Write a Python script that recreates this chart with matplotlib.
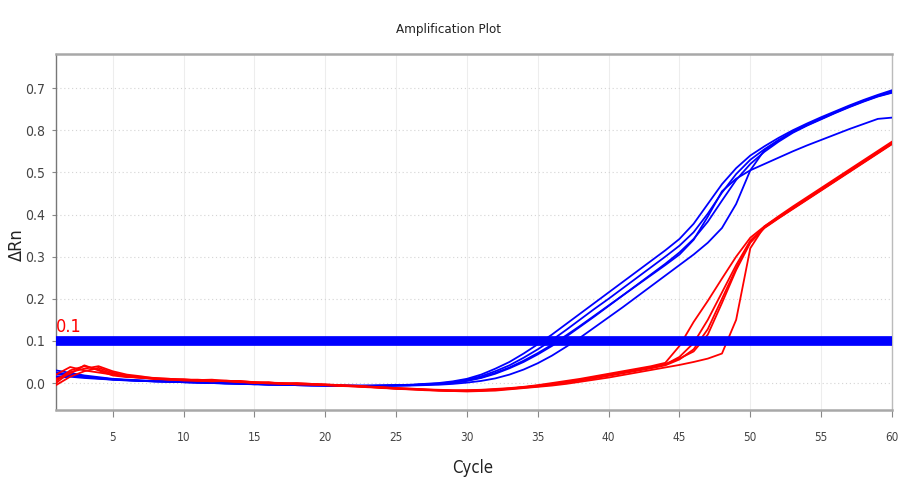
import matplotlib
matplotlib.use("Agg")
import matplotlib.pyplot as plt

# ---------------- data ----------------
cycles = list(range(1, 61))

blue_a = [0.030, 0.024, 0.018, 0.014, 0.010, 0.008, 0.006, 0.005, 0.004, 0.003,
          0.002, 0.001, 0.000, -0.001, -0.002, -0.003, -0.004, -0.004, -0.005, -0.005,
          -0.006, -0.006, -0.006, -0.006, -0.005, -0.004, -0.002, 0.000,
          0.004, 0.010, 0.020, 0.034, 0.050, 0.070, 0.092, 0.115, 0.140, 0.165, 0.190, 0.215,
          0.240, 0.265, 0.290, 0.315, 0.342, 0.378, 0.425, 0.472, 0.510, 0.540, 0.562, 0.582,
          0.600, 0.616, 0.631, 0.645, 0.659, 0.672, 0.684, 0.695]
blue_b = [0.020, 0.022, 0.016, 0.012, 0.009, 0.007, 0.006, 0.004, 0.004, 0.002,
          0.001, 0.001, -0.001, -0.001, -0.003, -0.003, -0.004, -0.005, -0.005, -0.006,
          -0.006, -0.007, -0.006, -0.006, -0.005, -0.005, -0.003, -0.001,
          0.002, 0.008, 0.016, 0.028, 0.042, 0.060, 0.080, 0.102, 0.126, 0.151, 0.176, 0.200,
          0.225, 0.250, 0.275, 0.300, 0.326, 0.358, 0.402, 0.452, 0.496, 0.530, 0.555, 0.577,
          0.597, 0.613, 0.628, 0.643, 0.657, 0.670, 0.682, 0.692]
blue_c = [0.012, 0.015, 0.012, 0.010, 0.008, 0.006, 0.005, 0.004, 0.003, 0.002,
          0.001, 0.000, 0.000, -0.002, -0.002, -0.004, -0.004, -0.005, -0.006, -0.006,
          -0.007, -0.007, -0.007, -0.006, -0.006, -0.005, -0.004, -0.002,
          0.000, 0.005, 0.012, 0.022, 0.035, 0.050, 0.068, 0.088, 0.110, 0.134, 0.158, 0.183,
          0.208, 0.233, 0.258, 0.283, 0.310, 0.342, 0.383, 0.433, 0.482, 0.520, 0.549, 0.573,
          0.594, 0.611, 0.626, 0.641, 0.655, 0.668, 0.680, 0.689]
blue_d = [0.025, 0.020, 0.015, 0.012, 0.009, 0.007, 0.005, 0.004, 0.003, 0.002,
          0.001, 0.000, -0.001, -0.002, -0.003, -0.003, -0.004, -0.005, -0.006, -0.006,
          -0.007, -0.007, -0.007, -0.007, -0.006, -0.006, -0.005, -0.004,
          -0.002, 0.001, 0.005, 0.011, 0.020, 0.032, 0.047, 0.065, 0.086, 0.108, 0.132, 0.156,
          0.180, 0.205, 0.230, 0.255, 0.280, 0.305, 0.333, 0.368, 0.425, 0.505, 0.553, 0.576,
          0.596, 0.612, 0.627, 0.642, 0.656, 0.669, 0.681, 0.690]
blue_e = [0.015, 0.018, 0.014, 0.011, 0.008, 0.007, 0.005, 0.004, 0.003, 0.003,
          0.002, 0.000, -0.001, -0.001, -0.002, -0.004, -0.004, -0.004, -0.005, -0.006,
          -0.006, -0.006, -0.007, -0.006, -0.006, -0.005, -0.003, -0.002,
          0.001, 0.006, 0.013, 0.024, 0.037, 0.053, 0.071, 0.091, 0.113, 0.136, 0.160, 0.184,
          0.208, 0.232, 0.256, 0.280, 0.305, 0.340, 0.395, 0.455, 0.485, 0.505, 0.520, 0.535,
          0.550, 0.564, 0.577, 0.590, 0.603, 0.615, 0.627, 0.630]

red_1 = [0.005, 0.030, 0.040, 0.032, 0.022, 0.018, 0.014, 0.012, 0.010, 0.008,
         0.007, 0.008, 0.005, 0.004, 0.002, 0.000, -0.001, 0.000, -0.002, -0.003,
         -0.005, -0.006, -0.008, -0.010, -0.012, -0.013, -0.015, -0.016, -0.017, -0.017,
         -0.016, -0.014, -0.012, -0.009, -0.005, 0.000, 0.005, 0.010, 0.016, 0.022,
         0.028, 0.034, 0.040, 0.048, 0.088, 0.145, 0.195, 0.248, 0.300, 0.345,
         0.372, 0.394, 0.416, 0.438, 0.460, 0.482, 0.504, 0.526, 0.548, 0.570]
red_2 = [0.020, 0.038, 0.030, 0.025, 0.020, 0.015, 0.013, 0.010, 0.008, 0.009,
         0.006, 0.005, 0.006, 0.003, 0.001, 0.002, -0.002, -0.002, -0.003, -0.005,
         -0.006, -0.008, -0.009, -0.012, -0.013, -0.015, -0.016, -0.018, -0.019, -0.018,
         -0.017, -0.016, -0.013, -0.010, -0.007, -0.003, 0.002, 0.008, 0.013, 0.019,
         0.025, 0.031, 0.037, 0.044, 0.062, 0.095, 0.150, 0.215, 0.280, 0.338,
         0.370, 0.393, 0.415, 0.437, 0.459, 0.481, 0.503, 0.525, 0.547, 0.569]
red_3 = [-0.005, 0.015, 0.028, 0.036, 0.025, 0.016, 0.012, 0.011, 0.008, 0.007,
         0.005, 0.006, 0.004, 0.002, 0.001, -0.001, -0.001, -0.003, -0.004, -0.004,
         -0.006, -0.007, -0.009, -0.011, -0.013, -0.014, -0.016, -0.017, -0.018, -0.019,
         -0.018, -0.016, -0.014, -0.011, -0.008, -0.004, 0.001, 0.006, 0.011, 0.017,
         0.023, 0.029, 0.035, 0.042, 0.056, 0.080, 0.128, 0.200, 0.272, 0.336,
         0.369, 0.392, 0.414, 0.436, 0.458, 0.480, 0.502, 0.524, 0.546, 0.568]
red_4 = [0.010, 0.022, 0.042, 0.030, 0.018, 0.014, 0.013, 0.009, 0.009, 0.006,
         0.006, 0.004, 0.005, 0.003, 0.000, 0.000, -0.002, -0.003, -0.003, -0.005,
         -0.007, -0.008, -0.010, -0.011, -0.014, -0.015, -0.017, -0.018, -0.019, -0.020,
         -0.019, -0.018, -0.015, -0.012, -0.009, -0.006, -0.002, 0.003, 0.008, 0.013,
         0.019, 0.025, 0.031, 0.037, 0.043, 0.050, 0.058, 0.070, 0.150, 0.320,
         0.372, 0.396, 0.419, 0.441, 0.463, 0.485, 0.507, 0.529, 0.551, 0.573]
red_5 = [0.000, 0.026, 0.034, 0.040, 0.028, 0.020, 0.016, 0.011, 0.010, 0.008,
         0.008, 0.006, 0.005, 0.005, 0.002, 0.001, 0.000, -0.001, -0.002, -0.004,
         -0.005, -0.007, -0.009, -0.010, -0.012, -0.014, -0.015, -0.017, -0.018, -0.018,
         -0.017, -0.015, -0.013, -0.010, -0.006, -0.002, 0.003, 0.008, 0.014, 0.020,
         0.026, 0.032, 0.038, 0.045, 0.058, 0.075, 0.115, 0.190, 0.268, 0.333,
         0.368, 0.391, 0.413, 0.435, 0.457, 0.479, 0.501, 0.523, 0.545, 0.567]

blue_series = [blue_a, blue_b, blue_c, blue_d, blue_e]
red_series = [red_1, red_2, red_3, red_4, red_5]

threshold = 0.1
threshold_label = "0.1"
x_ticks = [5, 10, 15, 20, 25, 30, 35, 40, 45, 50, 55, 60]
y_ticks = [0.0, 0.1, 0.2, 0.3, 0.4, 0.5, 0.6, 0.7]
y_tick_labels = ["0.0", "0.1", "0.2", "0.3", "0.4", "0.5", "0.8", "0.7"]
title = "Amplification Plot"
x_label = "Cycle"
y_label = "ΔRn"

# ---------------- drawing ----------------
cond = dict(family=["DejaVu Sans"], fontstretch="condensed")

W, H = 899, 488
fig = plt.figure(figsize=(W / 100, H / 100), dpi=100)
ax = fig.add_axes([56 / W, 1 - 410 / H, (892 - 56) / W, (410 - 54) / H])

BLUE = "#0000ff"
RED = "#ff0000"

for s in blue_series:
    ax.plot(cycles, s, color=BLUE, lw=1.3, zorder=3)
for s in red_series:
    ax.plot(cycles, s, color=RED, lw=1.3, zorder=3)

ax.axhline(threshold, color=BLUE, lw=7, zorder=5, solid_capstyle="butt")

ax.set_xlim(1, 60)
ax.set_ylim(-0.064, 0.781)

# grid
for xv in x_ticks:
    ax.axvline(xv, color="#ededed", lw=0.8, zorder=0)
for yv in y_ticks:
    ax.axhline(yv, color="#d4d4d4", lw=0.8, ls=(0, (1, 2.5)), zorder=0)

ax.set_xticks(x_ticks)
ax.set_xticklabels([str(v) for v in x_ticks], fontsize=8.5, color="#444444", **cond)
ax.set_yticks(y_ticks)
ax.set_yticklabels(y_tick_labels, fontsize=10, color="#444444", **cond)
ax.tick_params(axis="x", direction="out", length=5, width=0.8, color="#888888", pad=10)
ax.tick_params(axis="y", direction="out", length=3, width=0.8, color="#888888", pad=5)

for side in ["top", "bottom"]:
    ax.spines[side].set_color("#a8a8a8")
    ax.spines[side].set_linewidth(1.8)
ax.spines["left"].set_color("#777777")
ax.spines["left"].set_linewidth(1.0)
ax.spines["right"].set_color("#bbbbbb")
ax.spines["right"].set_linewidth(1.0)

fig.text(449 / W, 1 - 30 / H, title, ha="center", va="center", fontsize=9.5, color="#222222", **cond)
fig.text(473 / W, 1 - 468 / H, x_label, ha="center", va="center", fontsize=12, color="#222222", **cond)
fig.text(17 / W, 1 - 245 / H, y_label, ha="center", va="center", rotation=90,
         fontsize=13, color="#222222", **cond)

# red threshold label
ax.text(1.0, threshold + 0.012, threshold_label, ha="left", va="bottom", color=RED,
        fontsize=13, zorder=6, **cond)

fig.savefig("out.png", dpi=100)
